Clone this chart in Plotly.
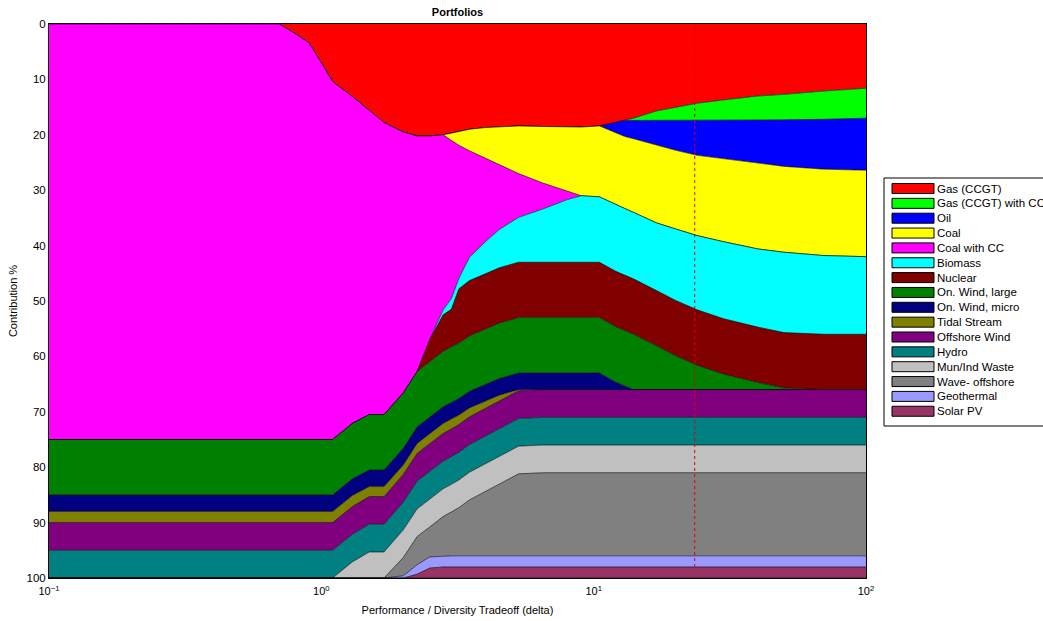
import plotly.graph_objects as go

# Performance / diversity tradeoff (delta) sample points
delta = [0.1, 0.7, 0.8, 0.9, 1.0, 1.1, 1.3, 1.5, 1.7, 2.0, 2.25, 2.5, 2.8, 3.0, 3.2, 3.5,
         4.0, 4.5, 5.3, 6.5, 8, 9, 10.5, 12, 13, 14, 17, 20, 24, 30, 40, 50, 70, 100]

# Contribution (%) of each technology, stacked from the top of the chart
gas_ccgt = [0, 0, 1.7, 3.4, 7.0, 10.4, 13.1, 15.6, 17.8, 19.5, 20.2, 20.2, 20.0, 19.7, 19.4, 19.0,
            18.7, 18.6, 18.4, 18.5, 18.6, 18.6, 18.4, 17.7, 17.4, 17.0, 15.7, 15.0, 14.3, 13.7, 13.0, 12.7, 12.1, 11.6]
gas_ccgt_cc = [0] * 25 + [0.4, 1.7, 2.4, 3.1, 3.7, 4.3, 4.6, 5.1, 5.4]
oil = [0] * 23 + [1.9, 2.9, 3.3, 4.5, 5.4, 6.3, 6.9, 7.9, 8.4, 9.0, 9.4]
coal = [0] * 13 + [1.3, 2.5, 3.9, 5.5, 6.7, 8.6, 10.2, 11.6, 12.4, 12.8, 13.0, 13.0, 13.3, 14.0,
                   14.2, 14.5, 15.0, 15.4, 15.5, 15.6, 15.6]
coal_cc = [75.0, 75.0, 73.3, 71.6, 68.0, 64.6, 59.0, 54.9, 52.7, 47.1, 42.5, 36.8, 31.6, 28.6,
           24.0, 19.2, 15.1, 11.8, 7.9, 4.7, 1.5] + [0] * 13
biomass = [0] * 12 + [0.9, 1.9, 1.9, 4.2, 5.8, 6.9, 8.1, 9.6, 11.3, 12.0, 11.8, 12.0, 12.0, 12.0,
                      12.2, 12.9, 13.4, 13.9, 14.1, 14.5, 14.2, 14.0]
nuclear = [0] * 11 + [4.0, 6.6, 6.8, 9.8] + [10] * 19
wind_large = [10] * 26 + [7.9, 6.1, 4.4, 2.8, 1.3, 0.3, 0, 0]
wind_micro = [3] * 23 + [1.4, 0.7] + [0] * 9
tidal = [2.0] * 7 + [1.8, 1.8, 1.7, 1.8, 1.8, 1.8, 1.8, 1.7, 1.6, 1.3, 1.1, 0.2] + [0] * 15
offshore = [5] * 34
hydro = [5] * 34
mun_waste = [0] * 6 + [2.9, 4.7, 4.7] + [5] * 25
wave = [0] * 9 + [3.3, 5.1, 5.4, 7.1, 7.9, 8.7, 10.1, 11.6, 12.9, 14.8] + [15] * 15
geothermal = [0] * 9 + [0.4, 1.7] + [2] * 23
solar = [0] * 10 + [0.7, 1.8] + [2] * 22

selected_delta = 23.5

names = ["Gas (CCGT)", "Gas (CCGT) with CC", "Oil", "Coal", "Coal with CC", "Biomass", "Nuclear",
         "On. Wind, large", "On. Wind, micro", "Tidal Stream", "Offshore Wind", "Hydro",
         "Mun/Ind Waste", "Wave- offshore", "Geothermal", "Solar PV"]
series = [gas_ccgt, gas_ccgt_cc, oil, coal, coal_cc, biomass, nuclear, wind_large, wind_micro,
          tidal, offshore, hydro, mun_waste, wave, geothermal, solar]
colors = ["#FF0000", "#00FF00", "#0000FF", "#FFFF00", "#FF00FF", "#00FFFF", "#800000", "#008000",
          "#000080", "#808000", "#800080", "#008080", "#C0C0C0", "#808080", "#9999FF", "#993366"]

FONT = "Liberation Sans, Arial, sans-serif"
W, H = 1043, 621
PL, PR, PT, PB = 49, 866, 24, 578          # plot area in pixels


def px_x(p):
    return (p - PL) / (PR - PL)


def px_y(p):
    return 1 - (p - PT) / (PB - PT)


fig = go.Figure()
for name, vals, col in zip(names, series, colors):
    fig.add_trace(go.Scatter(
        x=delta, y=vals, name=name, stackgroup="one", mode="lines",
        line=dict(color="black", width=0.6), fillcolor=col, hoverinfo="skip",
        showlegend=False))

fig.add_trace(go.Scatter(
    x=[selected_delta, selected_delta], y=[0, 98], mode="lines", showlegend=False,
    line=dict(color="#E00000", width=1, dash="dot"), hoverinfo="skip"))

# Legend drawn as a MATLAB-style box (clipped at the right edge like the original)
shapes = [dict(type="rect", xref="paper", yref="paper", layer="above",
               x0=px_x(884), x1=px_x(1100), y0=px_y(426), y1=px_y(178),
               line=dict(color="black", width=1), fillcolor="white")]
annotations = []
row0, step = 188.5, 14.85
for i, (name, col) in enumerate(zip(names, colors)):
    cy = row0 + i * step
    shapes.append(dict(type="rect", xref="paper", yref="paper", layer="above",
                       x0=px_x(892), x1=px_x(934), y0=px_y(cy + 5), y1=px_y(cy - 5),
                       line=dict(color="black", width=1), fillcolor=col))
    annotations.append(dict(text=name, xref="paper", yref="paper", x=px_x(935), y=px_y(cy),
                            xanchor="left", yanchor="middle", showarrow=False,
                            font=dict(family=FONT, size=11.5, color="black")))

fig.update_layout(
    width=W, height=H,
    margin=dict(l=PL, r=W - PR, t=PT, b=H - PB, autoexpand=False),
    paper_bgcolor="white", plot_bgcolor="white",
    font=dict(family=FONT, size=11, color="black"),
    title=dict(text="<b>Portfolios</b>", x=(PL + PR) / 2 / W, xanchor="center",
               y=1 - 12 / H, yanchor="middle", yref="container",
               font=dict(family=FONT, size=11, color="black")),
    xaxis=dict(type="log", range=[-1, 2], tickvals=[0.1, 1, 10, 100],
               ticktext=["10<sup>−1</sup>", "10<sup>0</sup>", "10<sup>1</sup>", "10<sup>2</sup>"],
               showline=True, mirror=True, linecolor="black", linewidth=1,
               showgrid=False, zeroline=False, ticks="", ticklabelstandoff=3,
               title=dict(text="Performance / Diversity Tradeoff (delta)", standoff=10,
                          font=dict(size=11))),
    yaxis=dict(range=[100, 0], tickvals=list(range(0, 101, 10)),
               showline=True, mirror=True, linecolor="black", linewidth=1,
               showgrid=False, zeroline=False, ticks="",
               tickfont=dict(size=11.5),
               title=dict(text="Contribution %", standoff=6, font=dict(size=11))),
    shapes=shapes,
    annotations=annotations,
    showlegend=False,
)

fig.write_html("out.html", config={"displayModeBar": False},
               post_script="document.body.style.margin='0';")
